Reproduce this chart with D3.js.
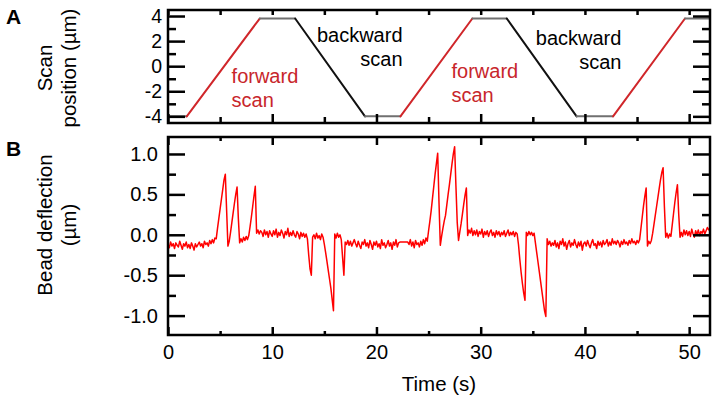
<!DOCTYPE html>
<html lang="en">
<head>
<meta charset="UTF-8">
<title>scan and bead deflection</title>
<style>
  body { margin: 0; background: #fff; }
  svg text { font-family: "Liberation Sans", Arial, sans-serif; fill: #000; }
</style>
</head>
<body>
<div class="canvas"></div>
<script src="https://d3js.org/d3.v7.min.js"></script>
<script>
// panel A: corner points of the scan stage trajectory
const scanTime = [0, 1.8, 8.8, 12.2, 18.9, 22.3, 29.2, 32.5, 39.2, 42.7, 49.6, 52];
const scanPos = [-4, -4, 3.8, 3.8, -4, -4, 3.8, 3.8, -4, -4, 3.8, 3.8];

// panel B: bead deflection, one sample every 0.125 s (8 per row = 1 s)
const sampleStep = 0.125;
const deflection = [
  -0.12, -0.16, -0.09, -0.14, -0.11, -0.17, -0.10, -0.13,
  -0.15, -0.08, -0.13, -0.18, -0.11, -0.14, -0.09, -0.16,
  -0.12, -0.17, -0.10, -0.14, -0.19, -0.11, -0.15, -0.12,
  -0.09, -0.14, -0.11, -0.16, -0.08, -0.12, -0.10, -0.14,
  -0.07, -0.11, -0.06, -0.10, -0.04, -0.05, 0.08, 0.20,
  0.32, 0.44, 0.56, 0.68, 0.75, 0.30, -0.14, -0.08,
  0.03, 0.15, 0.27, 0.39, 0.50, 0.59, 0.20, -0.10,
  -0.05, -0.09, -0.03, -0.07, -0.02, -0.06, -0.01, 0.10,
  0.22, 0.35, 0.48, 0.60, 0.02, 0.06, 0.01, 0.05,
  0.03, -0.02, 0.06, 0.00, 0.04, -0.03, 0.05, 0.01,
  -0.02, 0.05, 0.00, 0.07, -0.03, 0.03, -0.01, 0.06,
  0.02, -0.04, 0.04, 0.00, 0.08, -0.02, 0.03, -0.01,
  0.05, 0.00, -0.03, 0.04, 0.01, -0.05, 0.03, -0.02,
  0.02, -0.03, 0.01, -0.05, -0.25, -0.42, -0.50, -0.03,
  0.00, -0.05, 0.02, -0.04, -0.01, -0.06, 0.01, -0.03,
  -0.12, -0.22, -0.33, -0.44, -0.55, -0.66, -0.80, -0.94,
  0.01, -0.04, 0.02, -0.03, 0.00, -0.06, -0.28, -0.50,
  -0.09, -0.12, -0.07, -0.13, -0.08, -0.14, -0.10, -0.06,
  -0.11, -0.15, -0.08, -0.13, -0.17, -0.09, -0.12, -0.06,
  -0.14, -0.10, -0.16, -0.07, -0.12, -0.18, -0.09, -0.13,
  -0.08, -0.15, -0.11, -0.17, -0.06, -0.13, -0.10, -0.16,
  -0.12, -0.07, -0.14, -0.10, -0.18, -0.09, -0.13, -0.06,
  -0.15, -0.10, -0.09, -0.09, -0.09, -0.09, -0.09, -0.09,
  -0.09, -0.12, -0.06, -0.14, -0.09, -0.16, -0.07, -0.12,
  -0.10, -0.15, -0.08, -0.13, -0.06, -0.11, -0.04, -0.08,
  0.05, 0.17, 0.30, 0.45, 0.60, 0.75, 0.88, 1.01,
  0.40, -0.13, -0.02, 0.08, 0.17, 0.24, 0.37, 0.50,
  0.62, 0.75, 0.88, 1.00, 1.09, 0.60, 0.15, -0.07,
  0.04, 0.14, 0.26, 0.38, 0.49, 0.58, -0.01, 0.06,
  0.02, 0.08, -0.01, 0.05, 0.00, 0.06, -0.02, 0.04,
  0.01, 0.07, -0.03, 0.04, 0.00, 0.05, -0.02, 0.03,
  0.06, -0.01, 0.03, -0.03, 0.05, 0.00, 0.04, -0.02,
  0.03, 0.00, 0.05, -0.02, 0.02, 0.06, -0.01, 0.03,
  0.00, 0.04, -0.02, 0.03, 0.01, -0.12, -0.30, -0.46,
  -0.60, -0.72, -0.81, 0.03, -0.01, 0.04, 0.00, 0.03,
  -0.01, 0.02, -0.10, -0.22, -0.34, -0.46, -0.58, -0.70,
  -0.82, -0.94, -1.01, -0.05, -0.12, -0.08, -0.14, -0.10,
  -0.13, -0.07, -0.15, -0.10, -0.17, -0.08, -0.12, -0.05,
  -0.14, -0.09, -0.18, -0.11, -0.07, -0.15, -0.10, -0.13,
  -0.06, -0.12, -0.16, -0.09, -0.14, -0.08, -0.19, -0.11,
  -0.09, -0.14, -0.07, -0.12, -0.16, -0.10, -0.06, -0.13,
  -0.11, -0.17, -0.08, -0.13, -0.09, -0.15, -0.07, -0.12,
  -0.10, -0.06, -0.14, -0.09, -0.13, -0.05, -0.11, -0.08,
  -0.12, -0.07, -0.10, -0.15, -0.08, -0.12, -0.06, -0.11,
  -0.09, -0.13, -0.07, -0.11, -0.05, -0.10, -0.08, -0.12,
  -0.07, -0.10, -0.06, 0.08, 0.22, 0.36, 0.48, 0.58,
  -0.14, -0.08, -0.11, -0.07, 0.02, 0.13, 0.24, 0.35,
  0.46, 0.57, 0.68, 0.77, 0.83, 0.35, -0.03, 0.02,
  -0.04, 0.01, -0.02, 0.12, 0.26, 0.40, 0.52, 0.62,
  0.25, -0.03, 0.03, -0.02, 0.06, 0.00, 0.05, -0.01,
  0.04, -0.02, 0.07, 0.01, -0.03, 0.05, 0.00, 0.06,
  -0.01, 0.04, 0.02, 0.07, 0.01, 0.05, 0.09, 0.06,
  0.08
];

// ticks
const timeTicks = [0, 10, 20, 30, 40, 50];
const timeMinor = [5, 15, 25, 35, 45];
const scanTicks = [-4, -2, 0, 2, 4];
const scanMinor = [-3, -1, 1, 3];
const deflTicks = [-1.0, -0.5, 0.0, 0.5, 1.0];
const deflMinor = [-0.75, -0.25, 0.25, 0.75];

// in-plot labels of panel A (time, position of first baseline)
const annotations = [
  { lines: ['forward', 'scan'], t: 6.1, pos: -1.33, anchor: 'start', color: '#c8262b' },
  { lines: ['backward', 'scan'], t: 22.5, pos: 1.93, anchor: 'end', color: '#000' },
  { lines: ['forward', 'scan'], t: 27.2, pos: -0.93, anchor: 'start', color: '#c8262b' },
  { lines: ['backward', 'scan'], t: 43.5, pos: 1.7, anchor: 'end', color: '#000' }
];

const W = 717, H = 401;
const left = 168, right = 710;
const panelA = { top: 10, bottom: 123 };
const panelB = { top: 137, bottom: 335 };

const svg = d3.select('.canvas')
  .append('svg')
  .attr('width', W)
  .attr('height', H);

const x = d3.scaleLinear().domain([0, 52]).range([left, right]);
const yA = d3.scaleLinear().domain([-4.53, 4.48]).range([panelA.bottom, panelA.top]);
const yB = d3.scaleLinear().domain([-1.24, 1.21]).range([panelB.bottom, panelB.top]);

// draws the four framed sides with inward ticks
const drawAxes = (yScale, p, o) => {
  const g = svg.append('g');
  const add = (axis, tr) => {
    const a = g.append('g').attr('transform', tr).call(axis);
    a.select('.domain').remove();
    a.selectAll('.tick line').attr('stroke-width', 2.5);
    a.selectAll('.tick text')
      .style('font-size', o.fontSize + 'px')
      .attr('fill', '#000');
    return a;
  };
  // bottom
  add(d3.axisBottom(x).tickValues(timeMinor).tickFormat('').tickSize(-o.bottomMinor), `translate(0,${p.bottom})`);
  add(d3.axisBottom(x).tickValues(timeTicks).tickSize(-o.bottomMajor).tickPadding(10)
    .tickFormat(o.xLabels ? d3.format('d') : ''), `translate(0,${p.bottom})`);
  // top
  add(d3.axisTop(x).tickValues(timeMinor).tickFormat('').tickSize(-o.topMinor), `translate(0,${p.top})`);
  add(d3.axisTop(x).tickValues(timeTicks).tickFormat('').tickSize(-o.topMajor), `translate(0,${p.top})`);
  // left
  add(d3.axisLeft(yScale).tickValues(o.minor).tickFormat('').tickSize(-8), `translate(${left},0)`);
  add(d3.axisLeft(yScale).tickValues(o.major).tickSize(-17).tickPadding(o.yPad)
    .tickFormat(o.fmt), `translate(${left},0)`);
  // right
  add(d3.axisRight(yScale).tickValues(o.minor).tickFormat('').tickSize(-8), `translate(${right},0)`);
  add(d3.axisRight(yScale).tickValues(o.major).tickFormat('').tickSize(-17), `translate(${right},0)`);

  g.append('rect')
    .attr('x', left)
    .attr('y', p.top)
    .attr('width', right - left)
    .attr('height', p.bottom - p.top)
    .attr('fill', 'none')
    .attr('stroke', '#000')
    .attr('stroke-width', 2.5);
};

// ---- panel A ----
const scanPts = scanTime.map((t, i) => ({ t: t, p: scanPos[i] }));
const segs = d3.pairs(scanPts);
svg.append('g').selectAll('line')
  .data(segs)
  .enter()
  .append('line')
  .attr('x1', d => x(d[0].t))
  .attr('y1', d => yA(d[0].p))
  .attr('x2', d => x(d[1].t))
  .attr('y2', d => yA(d[1].p))
  .attr('stroke', d => d[1].p > d[0].p ? '#d0262a' : (d[1].p < d[0].p ? '#111' : '#707070'))
  .attr('stroke-width', 2)
  .attr('stroke-linecap', 'round');

const ann = svg.append('g').selectAll('text')
  .data(annotations)
  .enter()
  .append('text')
  .attr('x', d => x(d.t))
  .attr('y', d => yA(d.pos))
  .attr('text-anchor', d => d.anchor)
  .attr('fill', d => d.color)
  .style('font-size', '20px');
ann.selectAll('tspan')
  .data(d => d.lines.map(l => ({ l: l, d: d })))
  .enter()
  .append('tspan')
  .attr('x', d => x(d.d.t))
  .attr('dy', (d, i) => i ? 24 : 0)
  .attr('fill', d => d.d.color)
  .text(d => d.l);

drawAxes(yA, panelA, {
  major: scanTicks, minor: scanMinor, fmt: d => String(d), fontSize: 19.5, yPad: 6,
  bottomMajor: 9, bottomMinor: 6, topMajor: 5, topMinor: 5, xLabels: false
});

// ---- panel B ----
const trace = d3.line()
  .x((d, i) => x(i * sampleStep))
  .y(d => yB(d));

svg.append('path')
  .datum(deflection)
  .attr('d', trace)
  .attr('fill', 'none')
  .attr('stroke', '#ff0000')
  .attr('stroke-width', 1.5)
  .attr('stroke-linejoin', 'round');

drawAxes(yB, panelB, {
  major: deflTicks, minor: deflMinor, fmt: d => d.toFixed(1), fontSize: 20, yPad: 10,
  bottomMajor: 8, bottomMinor: 4, topMajor: 8, topMinor: 4, xLabels: true
});

// ---- titles ----
const title = (lines, cx, cy) => {
  const t = svg.append('text')
    .attr('transform', `translate(${cx},${cy}) rotate(-90)`)
    .attr('text-anchor', 'middle')
    .style('font-size', '20.5px');
  lines.forEach((l, i) => {
    t.append('tspan').attr('x', 0).attr('y', i * 24).text(l);
  });
};
title(['Scan', 'position (µm)'], 52, 68);
title(['Bead deflection', '(µm)'], 52, 225);

svg.append('text')
  .attr('x', (left + right) / 2)
  .attr('y', 391)
  .attr('text-anchor', 'middle')
  .style('font-size', '20.5px')
  .text('Time (s)');

svg.append('text')
  .attr('x', 6).attr('y', 24)
  .style('font-size', '21px').style('font-weight', 'bold')
  .text('A');
svg.append('text')
  .attr('x', 6).attr('y', 156)
  .style('font-size', '21px').style('font-weight', 'bold')
  .text('B');
</script>
</body>
</html>
